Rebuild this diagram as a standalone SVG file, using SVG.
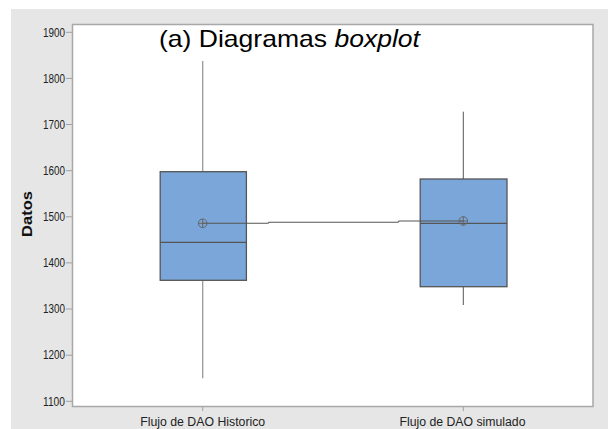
<svg xmlns="http://www.w3.org/2000/svg" width="608" height="429" viewBox="0 0 608 429">
<style>
.tk{font-family:"Liberation Sans",Arial,sans-serif;font-size:12.5px;fill:#222;text-anchor:end}
.xl{font-family:"Liberation Sans",Arial,sans-serif;font-size:12.5px;fill:#222;text-anchor:middle}
.tick{stroke:#a0a0a0;stroke-width:1}
.box{fill:#7ba6d9;stroke:#555;stroke-width:1.3}
.med{stroke:#555;stroke-width:1.3}
.mean{fill:none;stroke:#666;stroke-width:1}
</style>
<rect x="0" y="0" width="608" height="429" fill="#ffffff"/>
<rect x="11" y="9" width="597" height="420" fill="#e6e6e6"/>
<rect x="72.5" y="24.5" width="520.5" height="382" fill="#ffffff" stroke="#a8a8a8" stroke-width="1.5"/>
<g id="yaxis">
<line class="tick" x1="66" y1="32.3" x2="72" y2="32.3"/><text class="tk" x="65" y="36.5" textLength="22" lengthAdjust="spacingAndGlyphs">1900</text>
<line class="tick" x1="66" y1="78.4" x2="72" y2="78.4"/><text class="tk" x="65" y="82.6" textLength="22" lengthAdjust="spacingAndGlyphs">1800</text>
<line class="tick" x1="66" y1="124.5" x2="72" y2="124.5"/><text class="tk" x="65" y="128.7" textLength="22" lengthAdjust="spacingAndGlyphs">1700</text>
<line class="tick" x1="66" y1="170.7" x2="72" y2="170.7"/><text class="tk" x="65" y="174.9" textLength="22" lengthAdjust="spacingAndGlyphs">1600</text>
<line class="tick" x1="66" y1="216.8" x2="72" y2="216.8"/><text class="tk" x="65" y="221" textLength="22" lengthAdjust="spacingAndGlyphs">1500</text>
<line class="tick" x1="66" y1="262.9" x2="72" y2="262.9"/><text class="tk" x="65" y="267.1" textLength="22" lengthAdjust="spacingAndGlyphs">1400</text>
<line class="tick" x1="66" y1="309" x2="72" y2="309"/><text class="tk" x="65" y="313.2" textLength="22" lengthAdjust="spacingAndGlyphs">1300</text>
<line class="tick" x1="66" y1="355.2" x2="72" y2="355.2"/><text class="tk" x="65" y="359.4" textLength="22" lengthAdjust="spacingAndGlyphs">1200</text>
<line class="tick" x1="66" y1="401.3" x2="72" y2="401.3"/><text class="tk" x="65" y="405.5" textLength="22" lengthAdjust="spacingAndGlyphs">1100</text>
<text x="0" y="0" transform="translate(32,214) rotate(-90)" font-family="'Liberation Sans',Arial,sans-serif" font-size="15" font-weight="bold" fill="#111" text-anchor="middle" textLength="46" lengthAdjust="spacingAndGlyphs">Datos</text>
</g>
<g id="xaxis">
<line class="tick" x1="202.7" y1="407" x2="202.7" y2="411"/>
<line class="tick" x1="463.3" y1="407" x2="463.3" y2="411"/>
<text class="xl" x="202.7" y="426" textLength="125" lengthAdjust="spacingAndGlyphs">Flujo de DAO Historico</text>
<text class="xl" x="462.5" y="426" textLength="126" lengthAdjust="spacingAndGlyphs">Flujo de DAO simulado</text>
</g>
<text x="159" y="46.5" font-family="'Liberation Sans',Arial,sans-serif" font-size="24" fill="#000" textLength="261" lengthAdjust="spacingAndGlyphs">(a) Diagramas <tspan font-style="italic">boxplot</tspan></text>
<g id="box-historico">
<line x1="202.7" y1="61" x2="202.7" y2="171.7" stroke="#999" stroke-width="1.3"/>
<line x1="202.7" y1="280.3" x2="202.7" y2="378.3" stroke="#999" stroke-width="1.3"/>
<rect class="box" x="160.2" y="171.7" width="86.2" height="108.6"/>
<line class="med" x1="160.2" y1="242.3" x2="246.4" y2="242.3"/>
</g>
<g id="box-simulado">
<line x1="463.3" y1="111.7" x2="463.3" y2="179" stroke="#555" stroke-width="1"/>
<line x1="463.3" y1="286.7" x2="463.3" y2="305" stroke="#555" stroke-width="1"/>
<rect class="box" x="420.2" y="179" width="86.8" height="107.7"/>
<line class="med" x1="420.2" y1="223.3" x2="507" y2="223.3"/>
</g>
<g id="connectors">
<polyline points="202.7,223.3 268,223.3 269,222.3 398,222.3 399,221 463.3,221" fill="none" stroke="#555" stroke-width="1.1"/>
</g>
<g id="means">
<circle class="mean" cx="202.7" cy="223.3" r="4.3"/>
<line x1="198.4" y1="223.3" x2="207" y2="223.3" stroke="#666" stroke-width="1"/>
<line x1="202.7" y1="219" x2="202.7" y2="227.6" stroke="#666" stroke-width="1"/>
<circle class="mean" cx="463.3" cy="221" r="4.3"/>
<line x1="459" y1="221" x2="467.6" y2="221" stroke="#666" stroke-width="1"/>
<line x1="463.3" y1="216.7" x2="463.3" y2="225.3" stroke="#666" stroke-width="1"/>
</g>
</svg>
